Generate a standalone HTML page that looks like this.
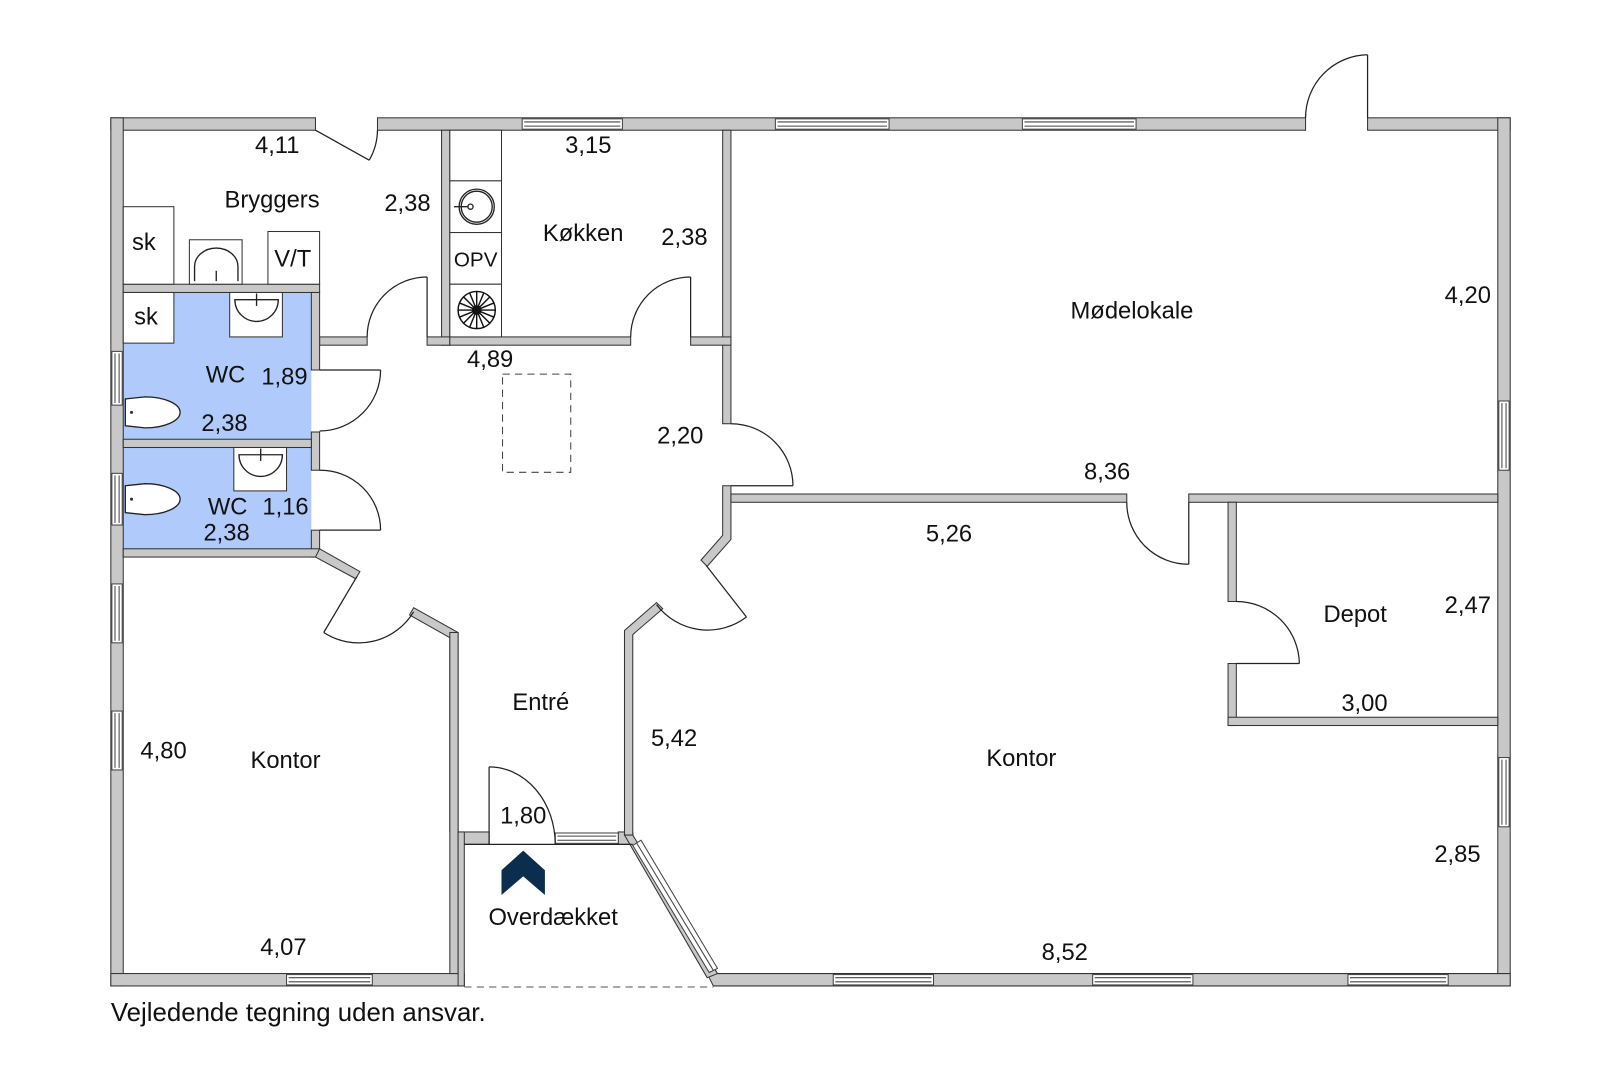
<!DOCTYPE html>
<html><head><meta charset="utf-8"><style>
html,body{margin:0;padding:0;background:#fff;width:1620px;height:1080px;overflow:hidden}
svg{display:block}
text{font-family:"Liberation Sans",sans-serif;fill:#111}
</style></head><body>
<svg width="1620" height="1080" viewBox="0 0 1567 1045" xmlns="http://www.w3.org/2000/svg">
<rect x="119" y="283" width="182" height="142" fill="#b0cbfb"/>
<rect x="119" y="433" width="182" height="98" fill="#b0cbfb"/>

<g fill="#c8c8c8" stroke="#333" stroke-width="1">
<rect x="107" y="114" width="198" height="12"/>
<rect x="365" y="114" width="898" height="12"/>
<rect x="1323" y="114" width="138" height="12"/>
<rect x="107" y="114" width="12" height="840"/>
<rect x="1449" y="114" width="12" height="840"/>
<rect x="107" y="942" width="342" height="12"/>
<polygon points="684,942 1461,942 1461,954 690,954"/>
<rect x="427" y="126" width="8" height="208"/>
<rect x="699" y="126" width="8" height="284"/>
<polygon points="699,470 707,470 707,522 684,548 678,542 699,518"/>
<rect x="309" y="326" width="46" height="8"/>
<rect x="413" y="326" width="22" height="8"/>
<rect x="435" y="326" width="175" height="8"/>
<rect x="668" y="326" width="39" height="8"/>
<rect x="119" y="275" width="190" height="8"/>
<rect x="301" y="283" width="8" height="75"/>
<rect x="301" y="418" width="8" height="37"/>
<rect x="301" y="513" width="8" height="26"/>
<rect x="119" y="425" width="182" height="8"/>
<rect x="119" y="531" width="190" height="8"/>
<polygon points="309,531 348,553 344,560 305,539"/>
<polygon points="400,588 443,612 443,805 435,805 435,617 396,595"/>
<rect x="435" y="612" width="8" height="330"/>
<rect x="443" y="805" width="30" height="12"/>
<rect x="598" y="805" width="14" height="12"/>
<rect x="443" y="805" width="6" height="149"/>
<polygon points="604,808 604,610 635,583 641,589 612,614 612,808"/>
<polygon points="604,808 612,808 694,942 684,946"/>
<rect x="707" y="478" width="383" height="8"/>
<rect x="1150" y="478" width="299" height="8"/>
<rect x="1188" y="486" width="8" height="96"/>
<rect x="1188" y="642" width="8" height="60"/>
<rect x="1188" y="694" width="261" height="8"/>
</g>

<g fill="#fff" stroke="#444" stroke-width="1">
<rect x="505" y="115" width="97" height="10"/><line x1="507" y1="118" x2="600" y2="118"/><line x1="507" y1="122" x2="600" y2="122"/>
<rect x="750" y="115" width="110" height="10"/><line x1="752" y1="118" x2="858" y2="118"/><line x1="752" y1="122" x2="858" y2="122"/>
<rect x="989" y="115" width="110" height="10"/><line x1="991" y1="118" x2="1097" y2="118"/><line x1="991" y1="122" x2="1097" y2="122"/>
<rect x="277" y="943" width="83" height="10"/><line x1="279" y1="946" x2="358" y2="946"/><line x1="279" y1="950" x2="358" y2="950"/>
<rect x="806" y="943" width="97" height="10"/><line x1="808" y1="946" x2="901" y2="946"/><line x1="808" y1="950" x2="901" y2="950"/>
<rect x="1057" y="943" width="97" height="10"/><line x1="1059" y1="946" x2="1152" y2="946"/><line x1="1059" y1="950" x2="1152" y2="950"/>
<rect x="1304" y="943" width="97" height="10"/><line x1="1306" y1="946" x2="1399" y2="946"/><line x1="1306" y1="950" x2="1399" y2="950"/>
<rect x="537" y="806" width="61" height="10"/><line x1="539" y1="809" x2="596" y2="809"/><line x1="539" y1="813" x2="596" y2="813"/>
<rect x="108" y="340" width="10" height="52"/><line x1="111" y1="342" x2="111" y2="390"/><line x1="115" y1="342" x2="115" y2="390"/>
<rect x="108" y="458" width="10" height="50"/><line x1="111" y1="460" x2="111" y2="506"/><line x1="115" y1="460" x2="115" y2="506"/>
<rect x="108" y="565" width="10" height="57"/><line x1="111" y1="567" x2="111" y2="620"/><line x1="115" y1="567" x2="115" y2="620"/>
<rect x="108" y="688" width="10" height="57"/><line x1="111" y1="690" x2="111" y2="743"/><line x1="115" y1="690" x2="115" y2="743"/>
<rect x="1450" y="388" width="10" height="67"/><line x1="1453" y1="390" x2="1453" y2="453"/><line x1="1457" y1="390" x2="1457" y2="453"/>
<rect x="1450" y="733" width="10" height="67"/><line x1="1453" y1="735" x2="1453" y2="798"/><line x1="1457" y1="735" x2="1457" y2="798"/>
<polygon points="612,818 620,813 694,937 686,941"/>
<line x1="616" y1="816" x2="690" y2="939"/>
</g>

<g fill="none" stroke="#222" stroke-width="1.2">
<line x1="305" y1="126" x2="357" y2="155"/><path d="M357,155 A60,60 0 0 0 365,126"/>
<line x1="1323" y1="114" x2="1323" y2="53"/><path d="M1323,53 A61,61 0 0 0 1263,114"/>
<line x1="413" y1="326" x2="413" y2="268"/><path d="M413,268 A58,58 0 0 0 355,326"/>
<line x1="668" y1="326" x2="668" y2="268"/><path d="M668,268 A58,58 0 0 0 610,326"/>
<line x1="707" y1="470" x2="767" y2="470"/><path d="M767,470 A60,60 0 0 0 707,410"/>
<line x1="1150" y1="486" x2="1150" y2="546"/><path d="M1150,546 A60,60 0 0 1 1090,486"/>
<line x1="1196" y1="642" x2="1257" y2="642"/><path d="M1257,642 A61,61 0 0 0 1196,582"/>
<line x1="309" y1="358" x2="368" y2="358"/><path d="M368,358 A59,59 0 0 1 309,417"/>
<line x1="309" y1="513" x2="368" y2="513"/><path d="M368,513 A58,58 0 0 0 309,455"/>
<line x1="473" y1="817" x2="473" y2="742"/><path d="M473,742 A64,75 0 0 1 537,817"/>
<line x1="345" y1="558" x2="313" y2="612"/><path d="M313,612 A62,62 0 0 0 400,592"/>
<line x1="683" y1="547" x2="722" y2="597"/><path d="M722,597 A62,62 0 0 1 635,585"/>
<line x1="449" y1="817" x2="612" y2="817"/>
</g>
<line x1="449" y1="955" x2="690" y2="955" stroke="#555" stroke-width="1" stroke-dasharray="7,5"/>
<rect x="486" y="362" width="66" height="95" fill="none" stroke="#444" stroke-width="1" stroke-dasharray="7,5"/>

<g fill="#fff" stroke="#333" stroke-width="1">
<rect x="119" y="200" width="49" height="75"/>
<rect x="183" y="232" width="51" height="43"/>
<rect x="259" y="224" width="50" height="51"/>
<rect x="119" y="283" width="49" height="49"/>
<rect x="222" y="283" width="51" height="43"/>
<rect x="226" y="433" width="51" height="42"/>
<rect x="435" y="126" width="50" height="49"/>
<rect x="435" y="175" width="50" height="50"/>
<rect x="435" y="225" width="50" height="50"/>
<rect x="435" y="275" width="50" height="51"/>
</g>
<g fill="#fff" stroke="#222" stroke-width="1.3">
<path d="M188,272 L188,258 A21,18 0 0 1 230,258 L230,272"/>
<line x1="209" y1="262" x2="209" y2="272"/>
<path d="M227,290 A21,21 0 0 0 269,290 Z"/><line x1="248" y1="284" x2="248" y2="296"/>
<path d="M231,440 A21,21 0 0 0 273,440 Z"/><line x1="252" y1="434" x2="252" y2="446"/>
<circle cx="461" cy="200" r="17" fill="none"/><circle cx="461" cy="200" r="15" fill="none"/>
<circle cx="455" cy="200" r="2.5"/><line x1="439" y1="200" x2="453" y2="200"/>
<path d="M121,386 L140,384 A34,15 0 1 1 140,414 L121,412 Z"/>
<path d="M121,470 L140,468 A34,15 0 1 1 140,498 L121,496 Z"/>
</g>
<g stroke="#111" stroke-width="1.4">
<circle cx="461" cy="300" r="18" fill="none"/>
<path d="M461,282 L461,318 M443,300 L479,300 M448,287 L474,313 M474,287 L448,313 M454,283 L468,317 M468,283 L454,317 M444,293 L478,307 M478,293 L444,307"/>
<circle cx="461" cy="300" r="4" fill="#111"/>
</g>
<circle cx="127" cy="399" r="1.5" fill="#333"/><circle cx="127" cy="483" r="1.5" fill="#333"/>

<polygon points="506,823 527,842 527,866 506,848 485,866 485,842" fill="#0c2e4e"/>

<g font-size="23" text-anchor="middle">
<text x="268" y="148">4,11</text>
<text x="263" y="201">Bryggers</text>
<text x="394" y="204">2,38</text>
<text x="139" y="242">sk</text>
<text x="283" y="258">V/T</text>
<text x="141" y="314">sk</text>
<text x="569" y="148">3,15</text>
<text x="564" y="233">Køkken</text>
<text x="662" y="237">2,38</text>
<text x="460" y="258" font-size="20">OPV</text>
<text x="1095" y="308">Mødelokale</text>
<text x="1420" y="293">4,20</text>
<text x="474" y="355">4,89</text>
<text x="218" y="370">WC</text>
<text x="275" y="372">1,89</text>
<text x="217" y="417">2,38</text>
<text x="658" y="429">2,20</text>
<text x="1071" y="464">8,36</text>
<text x="220" y="498">WC</text>
<text x="276" y="498">1,16</text>
<text x="219" y="523">2,38</text>
<text x="918" y="524">5,26</text>
<text x="1311" y="602">Depot</text>
<text x="1420" y="593">2,47</text>
<text x="523" y="687">Entré</text>
<text x="1320" y="688">3,00</text>
<text x="652" y="722">5,42</text>
<text x="158" y="734">4,80</text>
<text x="276" y="743">Kontor</text>
<text x="988" y="741">Kontor</text>
<text x="506" y="797">1,80</text>
<text x="1410" y="834">2,85</text>
<text x="535" y="895">Overdækket</text>
<text x="274" y="924">4,07</text>
<text x="1030" y="929">8,52</text>
<text x="107" y="988" text-anchor="start" font-size="25">Vejledende tegning uden ansvar.</text>
</g>
</svg>
</body></html>
